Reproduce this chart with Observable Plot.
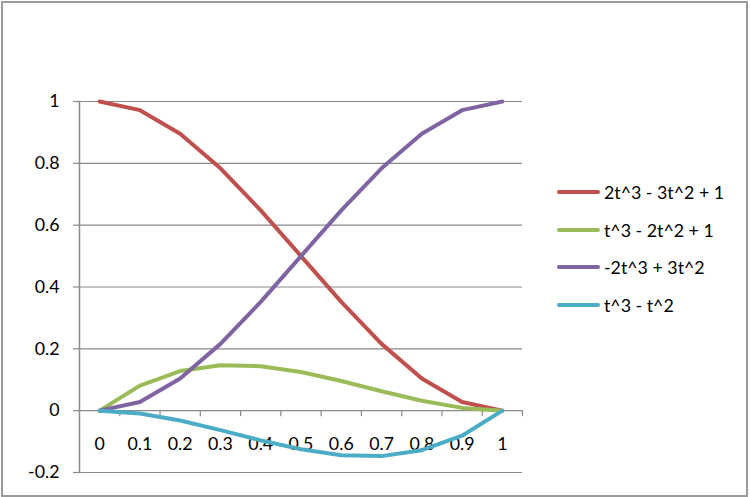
<!DOCTYPE html>
<html>
<head>
<meta charset="utf-8">
<script src="https://cdn.jsdelivr.net/npm/d3@7"></script>
<script src="https://cdn.jsdelivr.net/npm/@observablehq/plot@0.6"></script>
<style>
  html, body { margin: 0; padding: 0; background: #fff; }
  #wrap { position: relative; width: 750px; height: 497px; font-family: Lato, "Open Sans", sans-serif; }
  #border { position: absolute; left: 1px; top: 1px; width: 743px; height: 492px; border: 2px solid #9a9a9a; pointer-events: none; }
  #legend { position: absolute; left: 557px; top: 173px; font-size: 17.8px; color: #000; }
  .row { display: flex; align-items: center; height: 37.7px; }
  .sw { width: 43px; height: 4px; border-radius: 2px; margin-right: 4px; }
</style>
</head>
<body>
<div id="wrap"><div id="border"></div><div id="legend"></div></div>
<script>
const categories = [0, 0.1, 0.2, 0.3, 0.4, 0.5, 0.6, 0.7, 0.8, 0.9, 1];
const categoryLabels = ["0", "0.1", "0.2", "0.3", "0.4", "0.5", "0.6", "0.7", "0.8", "0.9", "1"];
const seriesNames = ["2t^3 - 3t^2 + 1", "t^3 - 2t^2 + 1", "-2t^3 + 3t^2", "t^3 - t^2"];
const seriesColors = ["#C0504D", "#9BBB59", "#8064A2", "#4BACC6"];
const redValues = [1, 0.972, 0.896, 0.784, 0.648, 0.5, 0.352, 0.216, 0.104, 0.028, 0];
const greenValues = [0, 0.081, 0.128, 0.147, 0.144, 0.125, 0.096, 0.063, 0.032, 0.009, 0];
const purpleValues = [0, 0.028, 0.104, 0.216, 0.352, 0.5, 0.648, 0.784, 0.896, 0.972, 1];
const cyanValues = [0, -0.009, -0.032, -0.063, -0.096, -0.125, -0.144, -0.147, -0.128, -0.081, 0];
const yTicks = [-0.2, 0, 0.2, 0.4, 0.6, 0.8, 1];
const yTickLabels = ["-0.2", "0", "0.2", "0.4", "0.6", "0.8", "1"];

const allSeries = [redValues, greenValues, purpleValues, cyanValues];
const data = [];
allSeries.forEach((vals, s) => vals.forEach((v, i) => data.push({series: seriesNames[s], x: categories[i], y: v})));

// category boundaries (tick marks between categories)
const step = categories[1] - categories[0];
const boundaries = categories.map(c => c + step / 2);
const xDomain = [categories[0] - step / 2, categories[categories.length - 1] + step / 2];

const chart = Plot.plot({
  width: 750,
  height: 497,
  marginLeft: 79,
  marginRight: 228,
  marginTop: 101,
  marginBottom: 25,
  style: {fontFamily: "Lato, 'Open Sans', sans-serif", fontSize: "17.8px", color: "#000", background: "transparent"},
  x: {domain: xDomain, axis: null},
  y: {domain: [-0.2, 1], axis: null},
  color: {domain: seriesNames, range: seriesColors},
  marks: [
    Plot.gridY(yTicks, {stroke: "#8a8a8a", strokeOpacity: 1, strokeWidth: 1.2}),
    Plot.axisY({ticks: yTicks, label: null, tickFormat: (d, i) => yTickLabels[i], tickSize: 6, tickPadding: 14, stroke: "#8a8a8a", strokeWidth: 1.2, fontSize: 17.8, fill: "#000"}),
    Plot.frame({anchor: "left", stroke: "#8a8a8a", strokeWidth: 1.5}),
    Plot.ruleX(boundaries, {y1: 0, y2: 0, insetBottom: -6, stroke: "#8a8a8a", strokeWidth: 1.2}),
    Plot.text(categories, {x: d => d, y: 0, text: (d, i) => categoryLabels[i], dy: 34, fontSize: 17.8, fill: "#000"}),
    Plot.line(data, {x: "x", y: "y", z: "series", stroke: "series", strokeWidth: 4, strokeLinejoin: "round", strokeLinecap: "round", curve: "linear"})
  ]
});
chart.style.position = "absolute";
chart.style.left = "0px";
chart.style.top = "0px";
document.getElementById("wrap").insertBefore(chart, document.getElementById("border"));

const legend = document.getElementById("legend");
seriesNames.forEach((name, i) => {
  const row = document.createElement("div");
  row.className = "row";
  const sw = document.createElement("div");
  sw.className = "sw";
  sw.style.background = seriesColors[i];
  const label = document.createElement("span");
  label.textContent = name;
  row.appendChild(sw);
  row.appendChild(label);
  legend.appendChild(row);
});
</script>
</body>
</html>
